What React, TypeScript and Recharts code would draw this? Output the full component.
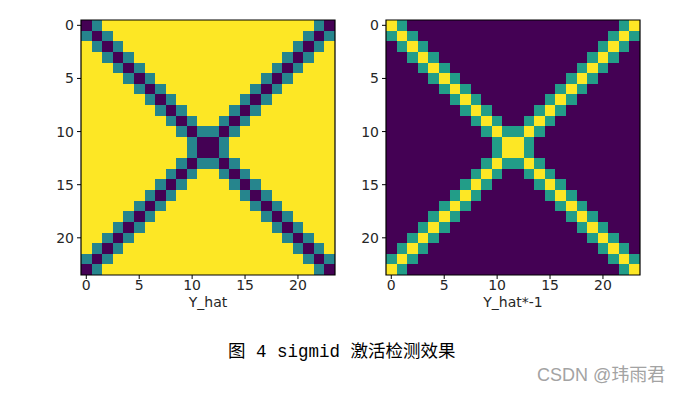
import { ScatterChart, Scatter, XAxis, YAxis, ReferenceArea } from 'recharts';

// Y_hat rows: 0 = dark, 1 = teal, 2 = yellow
const yHatRows = [
  '0122 2222 2222 2222 2222 2210',
  '1012 2222 2222 2222 2222 2101',
  '2101 2222 2222 2222 2222 1012',
  '2210 1222 2222 2222 2221 0122',
  '2221 0122 2222 2222 2210 1222',
  '2222 1012 2222 2222 2101 2222',
  '2222 2101 2222 2222 1012 2222',
  '2222 2210 1222 2221 0122 2222',
  '2222 2221 0122 2210 1222 2222',
  '2222 2222 1012 2101 2222 2222',
  '2222 2222 2101 1012 2222 2222',
  '2222 2222 2210 0122 2222 2222',
  '2222 2222 2210 0122 2222 2222',
  '2222 2222 2101 1012 2222 2222',
  '2222 2222 1012 2101 2222 2222',
  '2222 2221 0122 2210 1222 2222',
  '2222 2210 1222 2221 0122 2222',
  '2222 2101 2222 2222 1012 2222',
  '2222 1012 2222 2222 2101 2222',
  '2221 0122 2222 2222 2210 1222',
  '2210 1222 2222 2222 2221 0122',
  '2101 2222 2222 2222 2222 1012',
  '1012 2222 2222 2222 2222 2101',
  '0122 2222 2222 2222 2222 2210',
];
const levelValues = [0.0, 0.45, 1.0];
const axisTicks = [0, 5, 10, 15, 20];

const viridis = [
  '#440154', '#482475', '#414487', '#355f8d', '#2a788e', '#21918c',
  '#22a884', '#44bf70', '#7ad151', '#bddf26', '#fde725',
];

function hexToRgb(h: string) {
  return [1, 3, 5].map(i => parseInt(h.slice(i, i + 2), 16));
}

function colormap(t: number) {
  const c = Math.max(0, Math.min(1, t)) * (viridis.length - 1);
  const i = Math.min(Math.floor(c), viridis.length - 2);
  const f = c - i;
  const a = hexToRgb(viridis[i]);
  const b = hexToRgb(viridis[i + 1]);
  const m = a.map((v, k) => Math.round(v + (b[k] - v) * f));
  return `rgb(${m[0]},${m[1]},${m[2]})`;
}

type CellDatum = { x: number; y: number; v: number };

function buildCells(sign: number): CellDatum[] {
  const cells: CellDatum[] = [];
  yHatRows.forEach((row, i) => {
    row.replace(/ /g, '').split('').forEach((ch, j) => {
      cells.push({ x: j, y: i, v: sign * levelValues[Number(ch)] });
    });
  });
  return cells;
}

const PLOT_W = 254;
const PLOT_H = 255;
const N = yHatRows.length;

function Heatmap({ sign, label, left }: { sign: number; label: string; left: number }) {
  const data = buildCells(sign);
  const vals = data.map(d => d.v);
  const lo = Math.min(...vals);
  const hi = Math.max(...vals);
  const cw = PLOT_W / N;
  const ch = PLOT_H / N;

  const shape = (p: any) => {
    const t = (p.payload.v - lo) / (hi - lo);
    const x0 = p.cx - cw / 2;
    const y0 = p.cy - ch / 2;
    const w = p.payload.x === N - 1 ? cw : cw + 1;
    const h = p.payload.y === N - 1 ? ch : ch + 1;
    return <rect x={x0} y={y0} width={w} height={h} fill={colormap(t)} shapeRendering="crispEdges" />;
  };

  const tick = { fill: '#262626', fontSize: 14, fontFamily: '"DejaVu Sans"' };
  const frame = { stroke: '#000', strokeWidth: 1 };

  return (
    <div style={{ position: 'absolute', left, top: 8 }}>
      <ScatterChart width={330} height={310} margin={{ top: 12, right: 15, bottom: 11, left: 20 }}>
        <Scatter data={data} shape={shape} isAnimationActive={false} zIndex={100} />
        <XAxis
          type="number"
          dataKey="x"
          domain={[-0.5, N - 0.5]}
          ticks={axisTicks}
          tick={tick}
          tickSize={4}
          tickMargin={1}
          height={32}
          axisLine={false}
          tickLine={frame}
          allowDataOverflow
          label={{ value: label, position: 'insideBottom', offset: 0, fill: '#262626', fontSize: 14, fontFamily: '"DejaVu Sans"' }}
        />
        <YAxis
          type="number"
          dataKey="y"
          domain={[-0.5, N - 0.5]}
          reversed
          ticks={axisTicks}
          tick={tick}
          tickSize={4}
          tickMargin={3}
          width={41}
          axisLine={false}
          tickLine={frame}
          allowDataOverflow
        />
        <ReferenceArea
          x1={-0.5}
          x2={N - 0.5}
          y1={-0.5}
          y2={N - 0.5}
          fill="none"
          fillOpacity={0}
          stroke="#000"
          strokeWidth={1.2}
          ifOverflow="visible"
          zIndex={1000}
        />
      </ScatterChart>
    </div>
  );
}

export default function App() {
  return (
    <div style={{ position: 'relative', width: 683, height: 394, margin: -8, background: '#fff', overflow: 'hidden' }}>
      <Heatmap sign={1} label="Y_hat" left={20} />
      <Heatmap sign={-1} label="Y_hat*-1" left={325} />
      <div
        style={{
          position: 'absolute',
          left: 228,
          top: 337,
          fontSize: 17.5,
          color: '#000',
          fontFamily: '"Liberation Mono", "Noto Sans CJK SC"',
          whiteSpace: 'pre',
        }}
      >
        图 4 sigmid 激活检测效果
      </div>
      <div
        style={{
          position: 'absolute',
          left: 537,
          top: 360,
          fontSize: 18,
          color: '#a3a3a3',
          fontFamily: '"Liberation Sans", "Noto Sans CJK SC"',
          whiteSpace: 'pre',
        }}
      >
        CSDN @玮雨君
      </div>
    </div>
  );
}
